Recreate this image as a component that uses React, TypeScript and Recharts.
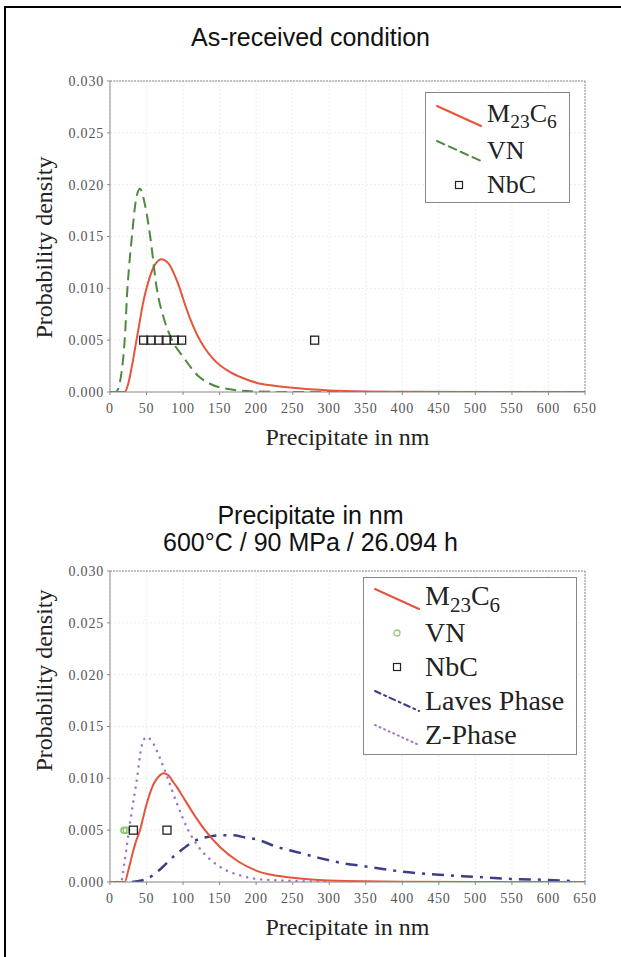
import {
  ComposedChart,
  Line,
  Scatter,
  XAxis,
  YAxis,
  CartesianGrid,
  ReferenceLine,
} from 'recharts'

const COLORS = {
  m23c6: '#e5553b',
  vn: '#4c8a3e',
  vnPoint: '#8cc870',
  nbc: '#222222',
  laves: '#3b3f86',
  zphase: '#a274cc',
  grid: '#ececec',
  frame: '#8a8a8a',
  tick: '#555555',
}

const SERIF = '"Liberation Serif", "Times New Roman", serif'
const SANS = '"Liberation Sans", Arial, sans-serif'

const X_TICKS = [0, 50, 100, 150, 200, 250, 300, 350, 400, 450, 500, 550, 600, 650]
const Y_TICKS = [0, 0.005, 0.01, 0.015, 0.02, 0.025, 0.03]

// --- as-received condition ---
const asM23x = [0, 15, 20, 25, 30, 35, 40, 45, 50, 55, 60, 65, 70, 75, 80, 85, 90, 95, 100, 110, 120, 130, 140, 150, 165, 180, 200, 225, 250, 300, 350, 400, 650]
const asM23y = [0, 0, 0, 0.0008, 0.0025, 0.0045, 0.0065, 0.0085, 0.01, 0.0112, 0.0121, 0.0126, 0.0128, 0.0127, 0.0124, 0.0118, 0.011, 0.0101, 0.009, 0.007, 0.0054, 0.0042, 0.0033, 0.0026, 0.0019, 0.0014, 0.0009, 0.0006, 0.0004, 0.00015, 0.00005, 0.00002, 0]

const asVNx = [0, 8, 12, 16, 19, 21, 23, 26, 30, 35, 41, 48, 55, 64, 75, 85, 100, 120, 140, 170, 200, 250, 650]
const asVNy = [0, 0, 0.0005, 0.002, 0.004, 0.006, 0.009, 0.012, 0.015, 0.0183, 0.0196, 0.018, 0.015, 0.01, 0.0068, 0.005, 0.0034, 0.0016, 0.0007, 0.0002, 0.00005, 0, 0]

const asNbCx = [46, 56, 67, 77, 88, 98, 280]
const asNbCy = [0.005, 0.005, 0.005, 0.005, 0.005, 0.005, 0.005]

// --- 600°C / 90 MPa / 26.094 h ---
const crM23x = [0, 15, 20, 25, 30, 35, 41, 50, 60, 67, 73, 80, 85, 92, 100, 115, 130, 150, 175, 200, 250, 300, 400, 650]
const crM23y = [0, 0, 0, 0.0011, 0.0025, 0.0038, 0.005, 0.0075, 0.0095, 0.0102, 0.0105, 0.0103, 0.0098, 0.0091, 0.0082, 0.0065, 0.005, 0.0034, 0.002, 0.0011, 0.0004, 0.00015, 0.00003, 0]

const crVNx = [19, 22]
const crVNy = [0.005, 0.005]

const crNbCx = [32, 78]
const crNbCy = [0.005, 0.005]

const crLavesX = [30, 50, 70, 86, 100, 114, 130, 150, 168, 185, 201, 228, 255, 287, 320, 350, 400, 450, 500, 550, 600, 630]
const crLavesY = [0, 0.0003, 0.0013, 0.0024, 0.0032, 0.0039, 0.0043, 0.0045, 0.0045, 0.0043, 0.0041, 0.0034, 0.0029, 0.0023, 0.0018, 0.0015, 0.001, 0.0007, 0.0005, 0.0003, 0.0002, 0.0001]

const crZx = [0, 15, 20, 28, 37, 43, 50, 58, 68, 79, 92, 107, 120, 140, 160, 180, 200, 250, 300]
const crZy = [0, 0, 0.002, 0.006, 0.01, 0.013, 0.014, 0.0135, 0.012, 0.01, 0.0075, 0.005, 0.0035, 0.002, 0.0011, 0.0006, 0.0003, 0.0001, 0]

const toPoints = (xs: number[], ys: number[]) => xs.map((x, i) => ({ x, y: ys[i] }))

function SquareMark(props: any) {
  const { cx, cy } = props
  if (cx == null || cy == null) return null
  return <rect x={cx - 4} y={cy - 4} width={8} height={8} fill="none" stroke={COLORS.nbc} strokeWidth={1.3} />
}

function CircleMark(props: any) {
  const { cx, cy } = props
  if (cx == null || cy == null) return null
  return <circle cx={cx} cy={cy} r={3} fill="none" stroke={COLORS.vnPoint} strokeWidth={1.5} />
}

const tickStyle = { fontFamily: SERIF, fontSize: 14, fill: COLORS.tick, letterSpacing: 0.8 }

function PanelChart({
  children,
  yLabelShift = 0,
}: {
  children: React.ReactNode
  yLabelShift?: number
}) {
  return (
    <ComposedChart width={621} height={400} margin={{ top: 21, right: 36, bottom: 8, left: 40 }}>
      <CartesianGrid stroke={COLORS.grid} strokeDasharray="2 2" />
      <XAxis
        type="number"
        dataKey="x"
        domain={[0, 650]}
        ticks={X_TICKS}
        allowDataOverflow
        height={60}
        tickSize={3}
        tickMargin={8}
        stroke={COLORS.frame}
        tick={tickStyle}
        label={(p: any) => {
          const vb = p.viewBox
          return (
            <text
              x={vb.x + vb.width / 2}
              y={385}
              textAnchor="middle"
              fontFamily={SERIF}
              fontSize={24}
              fill="#222"
            >
              Precipitate in nm
            </text>
          )
        }}
      />
      <YAxis
        type="number"
        dataKey="y"
        domain={[0, 0.03]}
        ticks={Y_TICKS}
        allowDataOverflow
        width={70}
        tickSize={3}
        tickMargin={3}
        stroke={COLORS.frame}
        tick={tickStyle}
        tickFormatter={(v: number) => v.toFixed(3)}
        label={(p: any) => {
          const vb = p.viewBox
          const cy = vb.y + vb.height / 2 + yLabelShift
          return (
            <text
              x={44}
              y={cy}
              transform={`rotate(-90 44 ${cy})`}
              textAnchor="middle"
              dominantBaseline="central"
              fontFamily={SERIF}
              fontSize={24}
              fill="#222"
            >
              Probability density
            </text>
          )
        }}
      />
      <ReferenceLine y={0.03} stroke={COLORS.frame} strokeDasharray="2 1" />
      <ReferenceLine x={650} stroke={COLORS.frame} strokeDasharray="2 1" />
      {children}
    </ComposedChart>
  )
}

function LegendLine({ color, dash, width = 2 }: { color: string; dash?: string; width?: number }) {
  return (
    <svg width={46} height={24} style={{ display: 'block' }}>
      <line x1={1} y1={2} x2={45} y2={22} stroke={color} strokeWidth={width} strokeDasharray={dash} strokeLinecap="round" />
    </svg>
  )
}

function LegendRow({ mark, label, h }: { mark: React.ReactNode; label: React.ReactNode; h: number }) {
  return (
    <div style={{ display: 'flex', alignItems: 'center', height: h }}>
      <div style={{ width: 46, marginLeft: 10, display: 'flex', justifyContent: 'center' }}>{mark}</div>
      <div style={{ marginLeft: 5, whiteSpace: 'nowrap' }}>{label}</div>
    </div>
  )
}

const M23 = (
  <span>
    M<sub style={{ fontSize: '0.75em' }}>23</sub>C<sub style={{ fontSize: '0.75em' }}>6</sub>
  </span>
)

const squareIcon = (
  <svg width={10} height={10}>
    <rect x={1.5} y={1.5} width={7} height={7} fill="none" stroke={COLORS.nbc} strokeWidth={1.2} />
  </svg>
)

const circleIcon = (
  <svg width={10} height={10}>
    <circle cx={5} cy={5} r={3} fill="none" stroke={COLORS.vnPoint} strokeWidth={1.3} />
  </svg>
)

export default function App() {
  return (
    <div style={{ position: 'absolute', left: 0, top: 0, width: 621, height: 957, background: '#fff' }}>
      <div
        style={{
          position: 'absolute',
          left: 4,
          top: 6,
          width: 615,
          height: 949,
          borderTop: '2px solid #000',
          borderLeft: '2px solid #000',
        }}
      />
      <div
        style={{
          position: 'absolute',
          top: 22,
          left: 0,
          width: 621,
          textAlign: 'center',
          fontFamily: SANS,
          fontSize: 25,
          lineHeight: '30px',
          color: '#111',
        }}
      >
        As-received condition
      </div>

      <div style={{ position: 'absolute', left: 0, top: 60 }}>
        <PanelChart yLabelShift={11}>
          <Line data={toPoints(asM23x, asM23y)} dataKey="y" type="monotone" stroke={COLORS.m23c6} strokeWidth={2} dot={false} isAnimationActive={false} />
          <Line data={toPoints(asVNx, asVNy)} dataKey="y" type="monotone" stroke={COLORS.vn} strokeWidth={2} strokeDasharray="11 6" dot={false} isAnimationActive={false} />
          <Scatter data={toPoints(asNbCx, asNbCy)} dataKey="y" shape={SquareMark} isAnimationActive={false} />
        </PanelChart>
      </div>

      <div
        style={{
          position: 'absolute',
          left: 425,
          top: 92,
          width: 145,
          height: 111,
          border: '1px solid #888',
          background: '#fff',
          fontFamily: SERIF,
          fontSize: 26,
          color: '#222',
          paddingTop: 5,
          boxSizing: 'border-box',
        }}
      >
        <LegendRow h={36} mark={<LegendLine color={COLORS.m23c6} />} label={M23} />
        <LegendRow h={34} mark={<LegendLine color={COLORS.vn} dash="8 5" />} label="VN" />
        <LegendRow h={34} mark={squareIcon} label="NbC" />
      </div>

      <div
        style={{
          position: 'absolute',
          top: 502,
          left: 0,
          width: 621,
          textAlign: 'center',
          fontFamily: SANS,
          fontSize: 25,
          lineHeight: '27px',
          color: '#111',
        }}
      >
        <div>Precipitate in nm</div>
        <div>600°C / 90 MPa / 26.094 h</div>
      </div>

      <div style={{ position: 'absolute', left: 0, top: 550 }}>
        <PanelChart yLabelShift={-46}>
          <Line data={toPoints(crLavesX, crLavesY)} dataKey="y" type="monotone" stroke={COLORS.laves} strokeWidth={2.5} strokeDasharray="12 7 3 7" dot={false} isAnimationActive={false} />
          <Line data={toPoints(crZx, crZy)} dataKey="y" type="monotone" stroke={COLORS.zphase} strokeWidth={2.5} strokeDasharray="0.1 7" strokeLinecap="round" dot={false} isAnimationActive={false} />
          <Line data={toPoints(crM23x, crM23y)} dataKey="y" type="monotone" stroke={COLORS.m23c6} strokeWidth={2} dot={false} isAnimationActive={false} />
          <Scatter data={toPoints(crVNx, crVNy)} dataKey="y" shape={CircleMark} isAnimationActive={false} />
          <Scatter data={toPoints(crNbCx, crNbCy)} dataKey="y" shape={SquareMark} isAnimationActive={false} />
        </PanelChart>
      </div>

      <div
        style={{
          position: 'absolute',
          left: 363,
          top: 577,
          width: 214,
          height: 178,
          border: '1px solid #888',
          background: '#fff',
          fontFamily: SERIF,
          fontSize: 28,
          color: '#222',
          paddingTop: 3,
          boxSizing: 'border-box',
        }}
      >
        <LegendRow h={35} mark={<LegendLine color={COLORS.m23c6} />} label={M23} />
        <LegendRow h={34} mark={circleIcon} label="VN" />
        <LegendRow h={34} mark={squareIcon} label="NbC" />
        <LegendRow h={34} mark={<LegendLine color={COLORS.laves} dash="6 4 2 4" />} label="Laves Phase" />
        <LegendRow h={34} mark={<LegendLine color={COLORS.zphase} dash="1 4" />} label="Z-Phase" />
      </div>
    </div>
  )
}
